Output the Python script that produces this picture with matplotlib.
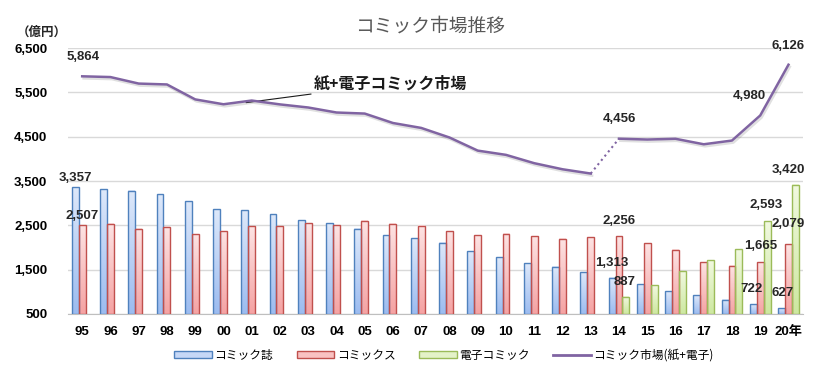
import numpy as np
import matplotlib.pyplot as plt
from matplotlib import font_manager
from matplotlib.colors import LinearSegmentedColormap
from matplotlib.patches import Rectangle
from matplotlib.lines import Line2D
import matplotlib.patheffects as pe

installed = {f.name for f in font_manager.fontManager.ttflist}
num_font = 'Liberation Sans Narrow' if 'Liberation Sans Narrow' in installed else 'Liberation Sans'
plt.rcParams['font.family'] = ['Noto Sans CJK JP', 'DejaVu Sans']

# data (億円)
years = ['95', '96', '97', '98', '99', '00', '01', '02', '03', '04', '05', '06', '07',
         '08', '09', '10', '11', '12', '13', '14', '15', '16', '17', '18', '19', '20年']
magazine = [3357, 3312, 3279, 3207, 3041, 2861, 2837, 2748, 2611, 2549, 2421, 2277, 2204,
            2111, 1913, 1776, 1650, 1564, 1438, 1313, 1166, 1016, 917, 824, 722, 627]
comics = [2507, 2535, 2421, 2473, 2302, 2372, 2480, 2482, 2549, 2498, 2602, 2533, 2495,
          2372, 2274, 2315, 2253, 2202, 2231, 2256, 2102, 1947, 1666, 1588, 1665, 2079]
digital = [0, 0, 0, 0, 0, 0, 0, 0, 0, 0, 0, 0, 0,
           0, 0, 0, 0, 0, 0, 887, 1149, 1460, 1711, 1965, 2593, 3420]
total = [5864, 5847, 5700, 5680, 5343, 5233, 5317, 5230, 5160, 5047, 5023, 4810, 4699,
         4483, 4187, 4091, 3903, 3766, 3669, 4456, 4437, 4454, 4330, 4414, 4980, 6126]

base = 500
x = np.arange(len(years))
w = 0.245

fig = plt.figure(figsize=(8.3, 3.76), dpi=100)
ax = fig.add_axes([0.082, 0.165, 0.885, 0.707])

series = [
    (magazine, -w, '#4F81BD', '#DDE8FA', '#9CBCF0'),
    (comics, 0, '#C0504D', '#FDE3E3', '#F5A3A3'),
    (digital, w, '#9BBB59', '#F1F9E0', '#CDE8A0'),
]
for vals, off, edge, top_c, bot_c in series:
    cmap = LinearSegmentedColormap.from_list('g', [bot_c, top_c])
    grad = np.linspace(1, 0, 50).reshape(-1, 1)
    for xi, v in zip(x, vals):
        if v <= 0:
            continue
        x0 = xi + off - w / 2
        ax.imshow(grad, extent=[x0, x0 + w, base, v], aspect='auto', cmap=cmap,
                  zorder=2, interpolation='bilinear')
        ax.add_patch(Rectangle((x0, base), w, v - base, fill=False, edgecolor=edge,
                               lw=1.0, zorder=3))

# total market line, dotted where digital is added
line_col = '#8064A2'
shadow = [pe.SimpleLineShadow(offset=(1, -1.5), alpha=0.12), pe.Normal()]
ax.plot(x[:19], total[:19], color=line_col, lw=1.8, zorder=4, path_effects=shadow)
ax.plot(x[18:20], total[18:20], color=line_col, lw=1.5, ls=':', zorder=4)
ax.plot(x[19:], total[19:], color=line_col, lw=1.8, zorder=4, path_effects=shadow)

ax.set_xlim(-0.5, len(years) - 0.5)
ax.set_ylim(500, 6500)
ax.set_yticks(range(500, 6501, 1000))
ax.set_yticklabels([f'{t:,}' for t in range(500, 6501, 1000)])
ax.set_xticks(x)
ax.set_xticklabels(years)
ax.grid(axis='y', color='#D9D9D9', lw=1, zorder=0)
ax.set_axisbelow(True)
for s in ['top', 'right', 'left']:
    ax.spines[s].set_visible(False)
ax.spines['bottom'].set_color('#BFBFBF')
ax.tick_params(length=0)
ax.tick_params(axis='y', pad=15)
ax.tick_params(axis='x', pad=9)
for lab in ax.get_yticklabels() + ax.get_xticklabels():
    lab.set_fontfamily([num_font, 'Noto Sans CJK JP'])
    lab.set_fontweight('bold')
    lab.set_fontsize(9.5)

# data labels
def lbl(xv, yv, text):
    ax.text(xv, yv, text, ha='center', va='center', fontsize=9.5, fontweight='bold',
            family=[num_font, 'Noto Sans CJK JP'], color='#262626', zorder=6)

lbl(0.05, 6300, f'{total[0]:,}')
lbl(25.0, 6540, f'{total[25]:,}')
lbl(23.6, 5420, f'{total[24]:,}')
lbl(19.0, 4890, f'{total[19]:,}')
lbl(-0.25, 3570, f'{magazine[0]:,}')
lbl(0.0, 2700, f'{comics[0]:,}')
lbl(19.0, 2600, f'{comics[19]:,}')
lbl(18.75, 1650, f'{magazine[19]:,}')
lbl(19.2, 1230, f'{digital[19]:,}')
lbl(24.2, 2950, f'{digital[24]:,}')
lbl(24.0, 2040, f'{comics[24]:,}')
lbl(23.7, 1060, f'{magazine[24]:,}')
lbl(25.0, 2520, f'{comics[25]:,}')
lbl(25.0, 3760, f'{digital[25]:,}')
lbl(24.8, 970, f'{magazine[25]:,}')

# annotation for the line
ax.annotate('紙+電子コミック市場', xy=(5.8, 5270), xytext=(8.2, 5700),
            fontsize=11.5, fontweight='bold', color='#1a1a1a', va='center',
            arrowprops=dict(arrowstyle='-', color='#1a1a1a', lw=0.8, shrinkA=0, shrinkB=0))

fig.text(0.518, 0.93, 'コミック市場推移', ha='center', va='center', fontsize=13.5,
         color='#595959')
fig.text(0.02, 0.915, '（億円）', ha='left', va='center', fontsize=9, fontweight='bold',
         color='#262626')

handles = [
    Rectangle((0, 0), 1, 1, facecolor='#C6D8F7', edgecolor='#4F81BD'),
    Rectangle((0, 0), 1, 1, facecolor='#F9C2C2', edgecolor='#C0504D'),
    Rectangle((0, 0), 1, 1, facecolor='#E4F2C8', edgecolor='#9BBB59'),
    Line2D([], [], color=line_col, lw=2),
]
names = ['コミック誌', 'コミックス', '電子コミック', 'コミック市場(紙+電子)']
fig.legend(handles, names, loc='center', bbox_to_anchor=(0.535, 0.055), ncol=4,
           frameon=False, fontsize=8.5, handlelength=3.2, handleheight=0.6,
           handletextpad=0.2, columnspacing=2.0)

fig.savefig('out.png', dpi=100)
